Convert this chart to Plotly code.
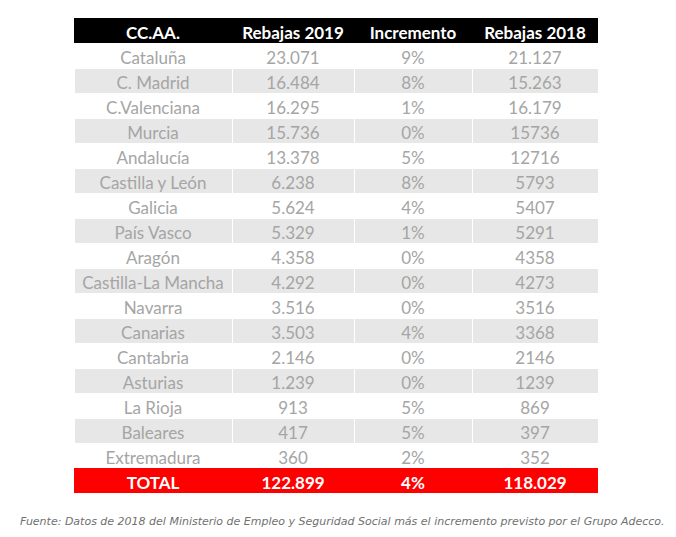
import plotly.graph_objects as go

headers = ["CC.AA.", "Rebajas 2019", "Incremento", "Rebajas 2018"]
regions = ["Cataluña", "C. Madrid", "C.Valenciana", "Murcia", "Andalucía", "Castilla y León",
           "Galicia", "País Vasco", "Aragón", "Castilla-La Mancha", "Navarra", "Canarias",
           "Cantabria", "Asturias", "La Rioja", "Baleares", "Extremadura"]
rebajas_2019 = ["23.071", "16.484", "16.295", "15.736", "13.378", "6.238", "5.624", "5.329",
                "4.358", "4.292", "3.516", "3.503", "2.146", "1.239", "913", "417", "360"]
incremento = ["9%", "8%", "1%", "0%", "5%", "8%", "4%", "1%", "0%", "0%", "0%", "4%",
              "0%", "0%", "5%", "5%", "2%"]
rebajas_2018 = ["21.127", "15.263", "16.179", "15736", "12716", "5793", "5407", "5291",
                "4358", "4273", "3516", "3368", "2146", "1239", "869", "397", "352"]
total_row = ["TOTAL", "122.899", "4%", "118.029"]
footnote = ("Fuente: Datos de 2018 del Ministerio de Empleo y Seguridad Social más el "
            "incremento previsto por el Grupo Adecco.")

W, H = 676, 537
n = len(regions)
# non-breaking spaces keep each name on one line inside its cell
region_labels = [r.replace(" ", "\u00a0") for r in regions]
cols = [region_labels, rebajas_2019, incremento, rebajas_2018]
row_fill = ["#ffffff" if i % 2 == 0 else "#e7e7e7" for i in range(n)]

FONT = "Lato, 'Open Sans', sans-serif"
COLW = [158, 122, 118, 126]
X0, X1 = 74 / W, 598 / W
TOP = 18
ROW_H = 25
main_bottom = TOP + ROW_H * (n + 1)

fig = go.Figure()
fig.add_trace(go.Table(
    domain=dict(x=[X0, X1], y=[1 - main_bottom / H, 1 - TOP / H]),
    columnwidth=COLW,
    header=dict(
        values=headers,
        fill_color="#000000",
        font=dict(color="#ffffff", size=17, family=FONT, weight="bold"),
        align="center",
        height=ROW_H,
        line=dict(color="#000000", width=0),
    ),
    cells=dict(
        values=cols,
        fill_color=[row_fill] * 4,
        font=dict(color="#a5a5a5", size=17, family=FONT),
        align="center",
        height=ROW_H,
        line=dict(color="#ffffff", width=1),
    ),
))
fig.add_trace(go.Table(
    domain=dict(x=[X0, X1], y=[1 - (main_bottom + ROW_H) / H, 1 - main_bottom / H]),
    columnwidth=COLW,
    header=dict(
        values=total_row,
        fill_color="#ff0000",
        font=dict(color="#ffffff", size=17, family=FONT, weight="bold"),
        align="center",
        height=ROW_H,
        line=dict(color="#ff0000", width=0),
    ),
    cells=dict(values=[[] for _ in total_row], height=ROW_H),
))

fig.add_annotation(
    text=footnote,
    xref="paper", yref="paper",
    x=18 / W, y=1 - 521 / H,
    xanchor="left", yanchor="middle",
    showarrow=False,
    font=dict(size=11, color="#707070", family="DejaVu Sans", style="italic"),
)

fig.update_layout(
    width=W, height=H,
    margin=dict(l=0, r=0, t=0, b=0),
    paper_bgcolor="#ffffff",
    plot_bgcolor="#ffffff",
)

fig.write_html("out.html", config={"displayModeBar": False},
               post_script="document.body.style.margin='0';")
